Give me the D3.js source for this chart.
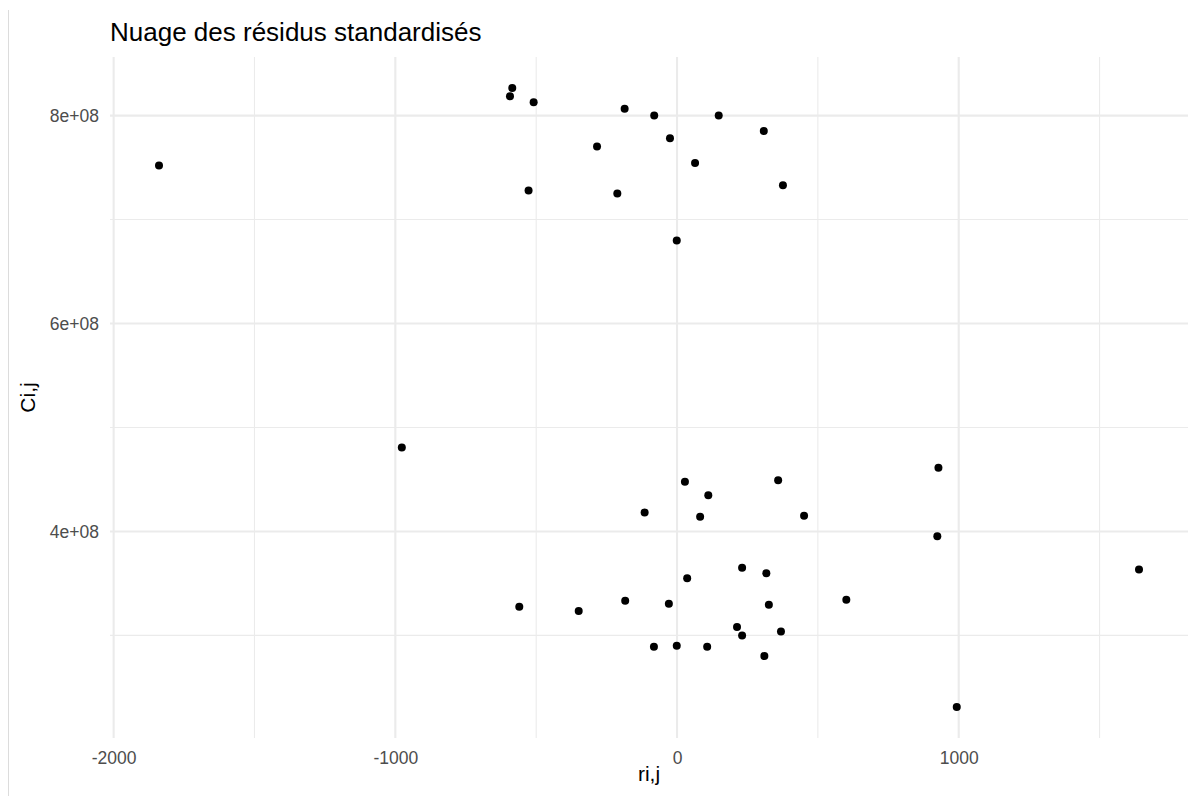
<!DOCTYPE html>
<html>
<head>
<meta charset="utf-8">
<script src="https://cdn.jsdelivr.net/npm/d3@7"></script>
<style>
  html, body { margin: 0; padding: 0; background: #ffffff; }
  svg { display: block; font-family: "Liberation Sans", Arial, sans-serif; }
</style>
</head>
<body>
<svg id="chart" width="1196" height="796"></svg>
<script>
// Standardised residuals (x) against the fitted quantity C_{i,j} (y)
const residuals = [
  -1839, -585, -593, -509, -186, -81, 148, 308, -25, -284,
  64, 376, -527, -212, -1, -977,
  928, 28, 359, 111, -115, 82, 451, 924, 1640, 231,
  317, 36, -560, -349, -184, -29, 326, 601, 213, 231,
  369, -82, -1, 107, 310, 993
];
const costs = [
  7.519e8, 8.266e8, 8.186e8, 8.128e8, 8.067e8, 8.000e8, 8.000e8, 7.853e8, 7.782e8, 7.702e8,
  7.545e8, 7.330e8, 7.279e8, 7.250e8, 6.798e8, 4.808e8,
  4.613e8, 4.478e8, 4.493e8, 4.349e8, 4.183e8, 4.141e8, 4.151e8, 3.955e8, 3.635e8, 3.651e8,
  3.599e8, 3.551e8, 3.276e8, 3.234e8, 3.334e8, 3.305e8, 3.295e8, 3.343e8, 3.080e8, 3.000e8,
  3.038e8, 2.891e8, 2.901e8, 2.891e8, 2.801e8, 2.311e8
];
const xMajor = [-2000, -1000, 0, 1000];
const xMinor = [-1500, -500, 500, 1500];
const yMajor = [4e8, 6e8, 8e8];
const yMinor = [3e8, 5e8, 7e8];
const titleText = "Nuage des résidus standardisés";
const xTitle = "ri,j";
const yTitle = "Ci,j";

const points = residuals.map((r, i) => ({ x: r, y: costs[i] }));

const svg = d3.select("#chart");
const W = 1196, H = 796;
const panel = { left: 110, right: 1188, top: 57, bottom: 738 };

// 5% expansion on each side of the data range
function expanded(ext) {
  const pad = (ext[1] - ext[0]) * 0.05;
  return [ext[0] - pad, ext[1] + pad];
}
const x = d3.scaleLinear()
  .domain(expanded(d3.extent(residuals)))
  .range([panel.left, panel.right]);
const y = d3.scaleLinear()
  .domain(expanded(d3.extent(costs)))
  .range([panel.bottom, panel.top]);

// thin frame line on the left edge
svg.append("line")
  .attr("x1", 8.5).attr("x2", 8.5).attr("y1", 10).attr("y2", H)
  .attr("stroke", "#dcdcdc").attr("stroke-width", 1);

const grid = svg.append("g");
// minor grid
grid.selectAll(".xminor").data(xMinor).join("line")
  .attr("x1", d => x(d)).attr("x2", d => x(d))
  .attr("y1", panel.top).attr("y2", panel.bottom)
  .attr("stroke", "#ebebeb").attr("stroke-width", 1.1);
grid.selectAll(".yminor").data(yMinor).join("line")
  .attr("x1", panel.left).attr("x2", panel.right)
  .attr("y1", d => y(d)).attr("y2", d => y(d))
  .attr("stroke", "#ebebeb").attr("stroke-width", 1.1);
// major grid
grid.selectAll(".xmajor").data(xMajor).join("line")
  .attr("x1", d => x(d)).attr("x2", d => x(d))
  .attr("y1", panel.top).attr("y2", panel.bottom)
  .attr("stroke", "#ebebeb").attr("stroke-width", 2.1);
grid.selectAll(".ymajor").data(yMajor).join("line")
  .attr("x1", panel.left).attr("x2", panel.right)
  .attr("y1", d => y(d)).attr("y2", d => y(d))
  .attr("stroke", "#ebebeb").attr("stroke-width", 2.1);

// scientific notation in the "8e+08" style
const fmtY = d => {
  const e = Math.floor(Math.log10(d) + 1e-9);
  const m = Math.round(d / Math.pow(10, e));
  return m + "e+" + String(e).padStart(2, "0");
};
// plain integers with an ASCII hyphen for negatives
const fmtX = d => String(d);

const xAxis = svg.append("g")
  .attr("transform", `translate(0,${panel.bottom})`)
  .call(d3.axisBottom(x).tickValues(xMajor).tickSize(0).tickPadding(26).tickFormat(fmtX));
const yAxis = svg.append("g")
  .attr("transform", `translate(${panel.left},0)`)
  .call(d3.axisLeft(y).tickValues(yMajor).tickSize(0).tickPadding(11).tickFormat(fmtY));
[xAxis, yAxis].forEach(a => {
  a.select(".domain").remove();
  a.selectAll("text")
    .attr("fill", "#4d4d4d")
    .style("font-size", "17.5px")
    .style("font-family", "'Liberation Sans', Arial, sans-serif");
});
xAxis.selectAll("text").attr("dy", null).attr("y", 26);
yAxis.selectAll("text").attr("dy", "0.36em");

// points
svg.append("g").selectAll("circle").data(points).join("circle")
  .attr("cx", d => x(d.x)).attr("cy", d => y(d.y))
  .attr("r", 4).attr("fill", "#000000");

// titles
svg.append("text")
  .attr("x", panel.left).attr("y", 41)
  .attr("fill", "#000000")
  .style("font-size", "26px")
  .text(titleText);
svg.append("text")
  .attr("x", (panel.left + panel.right) / 2).attr("y", 781)
  .attr("text-anchor", "middle").attr("fill", "#000000")
  .style("font-size", "21px")
  .text(xTitle);
svg.append("text")
  .attr("transform", `translate(35,${(panel.top + panel.bottom) / 2}) rotate(-90)`)
  .attr("text-anchor", "middle").attr("fill", "#000000")
  .style("font-size", "21px")
  .text(yTitle);
</script>
</body>
</html>
